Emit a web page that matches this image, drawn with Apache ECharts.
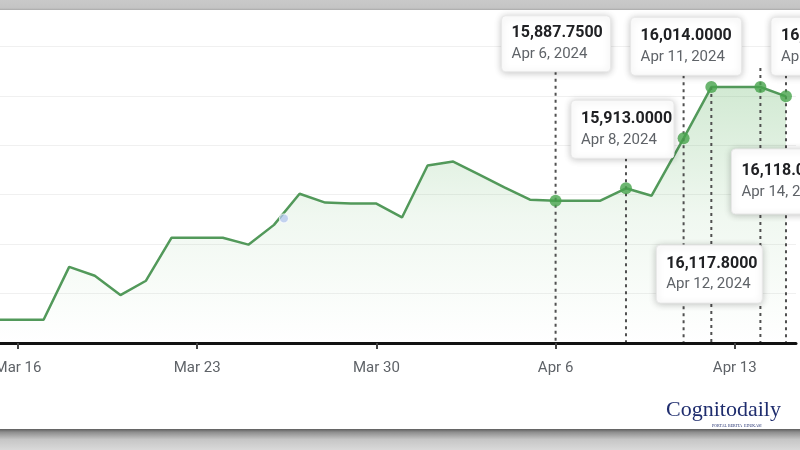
<!DOCTYPE html>
<html>
<head>
<meta charset="utf-8">
<script src="https://cdn.jsdelivr.net/npm/echarts@6/dist/echarts.min.js"></script>
<style>
html,body{margin:0;padding:0;background:#fff;}
#c{width:800px;height:450px;}
</style>
</head>
<body>
<div id="c"></div>
<script>
// ---- data ----
const dates = ['2024-03-15','2024-03-16','2024-03-17','2024-03-18','2024-03-19','2024-03-20','2024-03-21',
  '2024-03-22','2024-03-23','2024-03-24','2024-03-25','2024-03-26','2024-03-27','2024-03-28','2024-03-29',
  '2024-03-30','2024-03-31','2024-04-01','2024-04-02','2024-04-03','2024-04-04','2024-04-05','2024-04-06',
  '2024-04-07 18:00','2024-04-08 18:00','2024-04-09 18:00','2024-04-11 00:00','2024-04-12 02:00',
  '2024-04-14 00:00','2024-04-15 00:00'];
const values = [15647,15647,15647,15754,15736,15697,15726,15813,15813,15813,15799,15839,15902,15884,15882,
  15882,15854,15959,15967,15941,15915,15890,15887.75,15888,15913,15898,16014,16117.8,16118,16099];

const hlDates = ['2024-04-06','2024-04-08 18:00','2024-04-11 00:00','2024-04-12 02:00','2024-04-14 00:00','2024-04-15 00:00'];
const hlValues = [15887.75,15913,16014,16117.8,16118,16099];

const hoverDates = ['2024-03-26 09:20'];
const hoverValues = [15852];

const tickDates = ['2024-03-16','2024-03-23','2024-03-30','2024-04-06','2024-04-13'];
const monthNames = ['Jan','Feb','Mar','Apr','May','Jun','Jul','Aug','Sep','Oct','Nov','Dec'];

// ---- layout of the callout cards (pixels relative to their point) ----
const calloutLayout = [
  {dx:-54, dy:-185, w:109, h:56, lineTop:'box'},
  {dx:-55, dy:-88,  w:103, h:58, lineTop:'box'},
  {dx:-53, dy:-121, w:111, h:58, lineTop:'box'},
  {dx:-55, dy:158,  w:106, h:58, lineTop:0},
  {dx:-29, dy:62,   w:110, h:65, lineTop:-19},
  {dx:-15, dy:-79,  w:110, h:58, lineTop:'box'}
];

function parseLocal(s){
  const m = s.match(/(\d+)-(\d+)-(\d+)(?:\s+(\d+):(\d+))?/);
  return new Date(+m[1], +m[2]-1, +m[3], m[4]?+m[4]:0, m[5]?+m[5]:0).getTime();
}
const DAY = 864e5;
const axisMin = parseLocal('2024-03-16') - 0.703*DAY;
const axisMax = axisMin + 31.094*DAY;
const tickVals = tickDates.map(parseLocal);

const lineData = dates.map((d,i)=>[parseLocal(d), values[i]]);
const hlData = hlDates.map((d,i)=>[parseLocal(d), hlValues[i]]);
const hoverData = hoverDates.map((d,i)=>[parseLocal(d), hoverValues[i]]);

function fmtDay(t){ const d = new Date(t); return monthNames[d.getMonth()] + ' ' + d.getDate(); }
function fmtFull(t){ const d = new Date(t); return monthNames[d.getMonth()] + ' ' + d.getDate() + ', ' + d.getFullYear(); }
function fmtVal(v){ return v.toLocaleString('en-US',{minimumFractionDigits:4, maximumFractionDigits:4}); }

const chart = echarts.init(document.getElementById('c'), null, {renderer:'canvas'});

const option = {
  backgroundColor:'#ffffff',
  animation:false,
  grid:{left:0, right:4, top:-3, bottom:107, containLabel:false, outerBoundsMode:'none'},
  xAxis:{
    type:'value', min:axisMin, max:axisMax, scale:true,
    axisLine:{show:true, lineStyle:{color:'#111', width:3}},
    axisTick:{show:true, customValues:tickVals, length:6, lineStyle:{color:'#444', width:2}},
    axisLabel:{customValues:tickVals, formatter:(v)=>fmtDay(v), margin:18, fontSize:15,
      color:'#5f6368', fontFamily:'Roboto', showMinLabel:true, showMaxLabel:true},
    splitLine:{show:false}
  },
  yAxis:{
    type:'value', min:15600, max:16300, interval:100,
    axisLine:{show:false}, axisTick:{show:false}, axisLabel:{show:false},
    splitLine:{show:true, lineStyle:{color:'#f0f0f0', width:1}}
  },
  series:[
    {
      type:'line', data:lineData, symbol:'none', smooth:false, z:2,
      lineStyle:{color:'#52995a', width:2.5},
      areaStyle:{color:new echarts.graphic.LinearGradient(0,0,0,1,[
        {offset:0, color:'rgba(76,170,80,0.36)'},
        {offset:0.5, color:'rgba(76,170,80,0.12)'},
        {offset:1, color:'rgba(76,170,80,0.0)'}
      ])}
    },
    {
      type:'custom', data:hlData, z:3, clip:false, silent:true,
      renderItem:(params, api)=>{
        const p = api.coord([api.value(0), api.value(1)]);
        const L = calloutLayout[params.dataIndex];
        const cs = params.coordSys;
        const top = L.lineTop === 'box' ? p[1] + L.dy + L.h : p[1] + L.lineTop;
        return {type:'line', shape:{x1:p[0], y1:top, x2:p[0], y2:cs.y + cs.height - 1},
          style:{stroke:'#505050', lineWidth:2, lineDash:[3,4]}};
      }
    },
    {
      type:'scatter', data:hlData, symbol:'circle', symbolSize:12, z:4,
      itemStyle:{color:'#47a44c'}
    },
    {
      type:'scatter', data:hoverData, symbol:'circle', symbolSize:9, z:4,
      itemStyle:{color:'rgba(176,196,238,0.9)', borderColor:'#fff', borderWidth:1}
    },
    {
      type:'custom', data:hlData, z:10, clip:false, silent:true,
      renderItem:(params, api)=>{
        const t = api.value(0), v = api.value(1);
        const p = api.coord([t, v]);
        const L = calloutLayout[params.dataIndex];
        const x = p[0] + L.dx, y = p[1] + L.dy;
        const cy = y + L.h/2;
        return {type:'group', children:[
          {type:'rect', shape:{x:x, y:y, width:L.w, height:L.h, r:4},
            style:{fill:'#fff', stroke:'#e8e8e8', lineWidth:1, shadowBlur:7,
              shadowColor:'rgba(0,0,0,0.22)', shadowOffsetY:1}},
          {type:'text', style:{x:x+10, y:cy-10.5, text:fmtVal(v), fill:'#202124',
            font:'bold 16px Roboto', verticalAlign:'middle', align:'left'}},
          {type:'text', style:{x:x+10, y:cy+10.5, text:fmtFull(t), fill:'#5f6368',
            font:'15px Roboto', verticalAlign:'middle', align:'left'}}
        ]};
      }
    }
  ],
  graphic:[
    {type:'rect', left:0, top:0, z:100, shape:{width:800, height:10},
      style:{fill:new echarts.graphic.LinearGradient(0,0,0,1,[
        {offset:0, color:'#c9c9c9'},{offset:0.8, color:'#c4c4c4'},{offset:1, color:'#a9a9a9'}])}},
    {type:'rect', left:0, top:429, z:100, shape:{width:800, height:21},
      style:{fill:new echarts.graphic.LinearGradient(0,0,0,1,[
        {offset:0, color:'#5e5e5e'},{offset:0.15, color:'#8e8e8e'},{offset:0.5, color:'#c6c6c6'},{offset:1, color:'#d9d9d9'}])}},
    {type:'text', left:666, top:399, z:101,
      style:{text:'Cognitodaily', fill:'#1f2d6e', font:'22px "Liberation Serif"'}},
    {type:'text', left:712, top:424, z:101,
      style:{text:'PORTAL BERITA  EDUKASI', fill:'#1f2d6e', font:'4px "Liberation Serif"'}}
  ]
};
chart.setOption(option);
</script>
</body>
</html>
